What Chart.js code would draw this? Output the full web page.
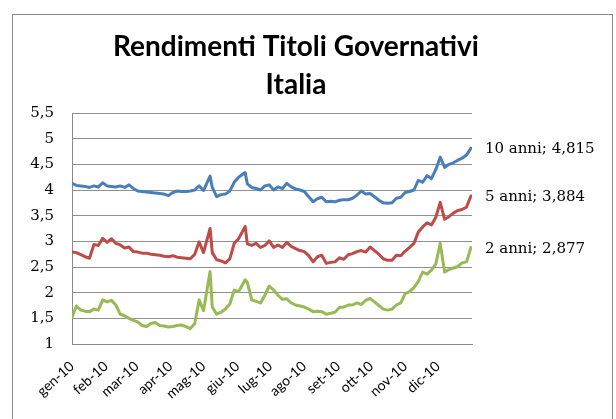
<!DOCTYPE html>
<html>
<head>
<meta charset="utf-8">
<script src="https://cdn.jsdelivr.net/npm/chart.js@4.4.0/dist/chart.umd.min.js"></script>
<style>
  html, body { margin: 0; padding: 0; background: #fff; }
  #wrap { width: 616px; height: 419px; }
</style>
</head>
<body>
<div id="wrap"><canvas id="grafico" width="616" height="419"></canvas></div>
<script>
// giorni dall'inizio del 2010 (asse x)
const giorni = [0,4,8,12,16,20,24,28,32,36,40,44,48,52,56,60,64,68,72,76,80,84,88,92,96,100,104,108,112,116,120,126,128,132,136,140,144,148,152,158,160,164,168,172,176,180,184,188,192,196,200,204,208,212,216,220,224,228,232,236,240,244,248,252,256,260,264,268,272,276,280,284,288,292,296,300,304,308,312,316,320,324,328,332,336,340,344,348,352,356,360,364];

const anni10 = [4.13,4.09,4.08,4.07,4.05,4.08,4.06,4.14,4.08,4.07,4.06,4.08,4.05,4.10,4.03,3.98,3.97,3.96,3.95,3.94,3.93,3.92,3.89,3.95,3.98,3.97,3.97,3.98,4.00,4.08,3.99,4.27,4.05,3.87,3.91,3.92,3.98,4.15,4.25,4.34,4.12,4.05,4.03,4.00,4.08,4.10,4.00,4.06,4.03,4.13,4.06,4.02,4.00,3.97,3.87,3.77,3.83,3.86,3.77,3.78,3.77,3.80,3.81,3.81,3.84,3.90,3.98,3.92,3.93,3.87,3.80,3.75,3.74,3.75,3.84,3.86,3.95,3.97,4.00,4.19,4.15,4.28,4.22,4.40,4.64,4.44,4.50,4.53,4.58,4.62,4.68,4.815];

const anni5 = [2.79,2.78,2.74,2.70,2.67,2.94,2.92,3.06,2.98,3.05,2.96,2.93,2.87,2.89,2.80,2.79,2.77,2.77,2.75,2.74,2.73,2.71,2.70,2.72,2.69,2.68,2.67,2.66,2.75,2.99,2.78,3.25,2.78,2.64,2.62,2.58,2.66,2.96,3.05,3.29,2.95,2.92,2.96,2.88,2.92,3.01,2.88,2.93,2.88,2.98,2.90,2.86,2.82,2.80,2.72,2.60,2.70,2.73,2.57,2.59,2.60,2.68,2.65,2.74,2.76,2.80,2.82,2.79,2.89,2.82,2.75,2.66,2.63,2.63,2.73,2.72,2.81,2.88,2.96,3.18,3.28,3.36,3.32,3.47,3.76,3.43,3.48,3.55,3.60,3.62,3.67,3.884];

const anni2 = [1.52,1.74,1.66,1.64,1.63,1.68,1.66,1.86,1.82,1.85,1.76,1.58,1.55,1.50,1.46,1.43,1.36,1.34,1.40,1.42,1.36,1.35,1.33,1.34,1.36,1.37,1.34,1.30,1.40,1.86,1.65,2.41,1.72,1.58,1.62,1.68,1.78,2.05,2.02,2.25,2.20,1.86,1.83,1.80,1.95,2.13,2.05,1.95,1.87,1.88,1.80,1.76,1.74,1.72,1.68,1.63,1.64,1.63,1.58,1.60,1.62,1.71,1.72,1.76,1.76,1.80,1.77,1.85,1.89,1.82,1.75,1.68,1.66,1.68,1.76,1.80,1.98,2.02,2.10,2.22,2.40,2.36,2.44,2.56,2.96,2.40,2.45,2.48,2.51,2.58,2.60,2.877];

// etichette dei mesi e giorno di inizio di ciascuno
const mesi = ['gen-10','feb-10','mar-10','apr-10','mag-10','giu-10','lug-10','ago-10','set-10','ott-10','nov-10','dic-10'];
const inizioMese = [0,31,59,90,120,151,181,212,243,273,304,334];

const yTicks = [1,1.5,2,2.5,3,3.5,4,4.5,5,5.5];

const virgola = v => String(v).replace('.', ',');

function punti(valori) {
    return giorni.map((g, i) => ({ x: g, y: valori[i] }));
}

// cornice esterna del grafico
const cornice = {
    id: 'cornice',
    beforeDraw(chart) {
        const ctx = chart.ctx;
        ctx.save();
        ctx.fillStyle = '#fff';
        ctx.fillRect(0, 0, chart.width, chart.height);
        ctx.strokeStyle = '#8a8a8a';
        ctx.lineWidth = 1;
        ctx.strokeRect(12.5, 14.5, 600, 420);
        ctx.restore();
    }
};

// etichetta a fine serie: "10 anni; 4,815"
const etichetteFine = {
    id: 'etichetteFine',
    afterDatasetsDraw(chart) {
        const ctx = chart.ctx;
        ctx.save();
        ctx.font = '15px "DejaVu Serif"';
        ctx.fillStyle = '#000';
        ctx.textBaseline = 'middle';
        ctx.textAlign = 'left';
        chart.data.datasets.forEach((ds, i) => {
            const meta = chart.getDatasetMeta(i);
            const ultimo = meta.data[meta.data.length - 1];
            const valore = ds.data[ds.data.length - 1].y;
            ctx.fillText(ds.label + '; ' + virgola(valore), ultimo.x + 14, ultimo.y + 1);
        });
        ctx.restore();
    }
};

const ctx = document.getElementById('grafico').getContext('2d');

new Chart(ctx, {
    type: 'line',
    data: {
        datasets: [
            { label: '10 anni', data: punti(anni10), borderColor: '#4a7ebb' },
            { label: '5 anni', data: punti(anni5), borderColor: '#be4b48' },
            { label: '2 anni', data: punti(anni2), borderColor: '#98b954' }
        ]
    },
    options: {
        responsive: false,
        animation: false,
        layout: { padding: { left: 0, right: 24, top: 0, bottom: 0 } },
        elements: {
            line: { borderWidth: 3, tension: 0, borderJoinStyle: 'round', borderCapStyle: 'round' },
            point: { radius: 0 }
        },
        scales: {
            x: {
                type: 'linear',
                min: 0,
                max: 365,
                afterBuildTicks: scale => { scale.ticks = inizioMese.map(v => ({ value: v })); },
                afterFit: scale => { scale.height = 75; },
                grid: { display: false, drawTicks: false },
                border: { display: true, color: '#8a8a8a', width: 1 },
                ticks: {
                    autoSkip: false,
                    minRotation: 42,
                    maxRotation: 42,
                    padding: 14,
                    color: '#000',
                    font: { family: 'Lato', size: 14 },
                    callback: v => mesi[inizioMese.indexOf(v)]
                }
            },
            y: {
                min: 1,
                max: 5.5,
                afterBuildTicks: scale => { scale.ticks = yTicks.map(v => ({ value: v })); },
                afterFit: scale => { scale.width = 72; },
                grid: { color: '#8f8f8f', drawTicks: false, lineWidth: 1 },
                border: { display: true, color: '#8a8a8a', width: 1 },
                ticks: {
                    padding: 18,
                    color: '#000',
                    font: { family: 'DejaVu Serif', size: 15 },
                    callback: v => virgola(v)
                }
            },
            spazio: {
                position: 'right',
                afterFit: scale => { scale.width = 120; },
                grid: { display: false },
                border: { display: false },
                ticks: { display: false }
            }
        },
        plugins: {
            legend: { display: false },
            tooltip: { enabled: false },
            title: {
                display: true,
                text: ['Rendimenti Titoli Governativi', 'Italia'],
                color: '#000',
                font: { family: 'Lato', size: 28, weight: 'bold', lineHeight: 38 / 28 },
                padding: { top: 28, bottom: 9 }
            }
        }
    },
    plugins: [cornice, etichetteFine]
});
</script>
</body>
</html>
